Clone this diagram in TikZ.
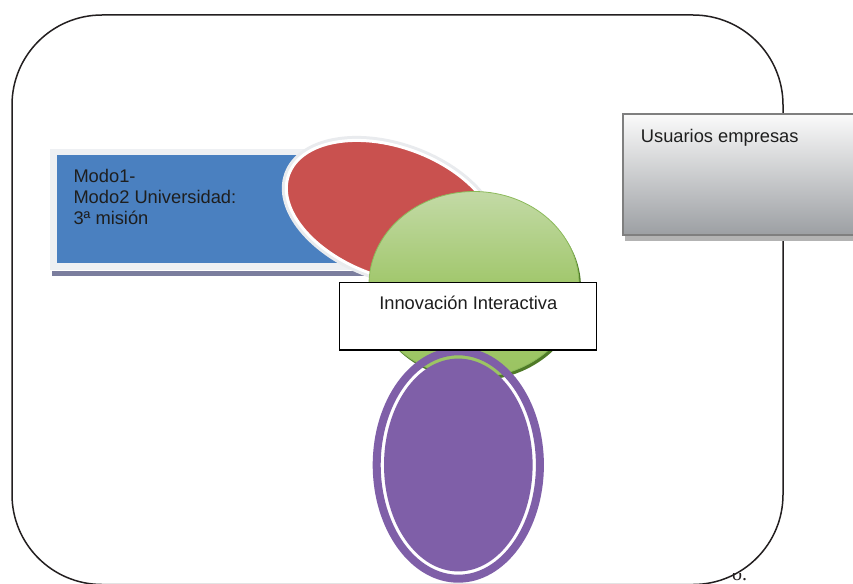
\documentclass[tikz,border=0pt]{standalone}
\usepackage{fontspec}
\setmainfont{Liberation Sans}
\newfontfamily\serifrag{Liberation Serif}
\usetikzlibrary{shapes.geometric}
\definecolor{frameline}{HTML}{231F20}
\definecolor{bluefill}{HTML}{4A80C0}
\definecolor{blueedge}{HTML}{EEF0F3}
\definecolor{blueshadow}{HTML}{7B7E9E}
\definecolor{redfill}{HTML}{C9514F}
\definecolor{redring}{HTML}{E9EBEE}
\definecolor{greentop}{HTML}{C3DAA6}
\definecolor{greenmid}{HTML}{A1C76C}
\definecolor{greenbot}{HTML}{9BC462}
\definecolor{greenedge}{HTML}{8CBA5B}
\definecolor{greenshadow}{HTML}{4F7A27}
\definecolor{purplefill}{HTML}{7F5FA8}
\definecolor{graytop}{HTML}{FAFAFA}
\definecolor{graybot}{HTML}{9C9FA3}
\definecolor{grayedge}{HTML}{7F7F7F}
\definecolor{grayshadow}{HTML}{B3B3B3}
\definecolor{txt}{HTML}{1E1E1E}
\tikzset{
  lbl/.style={inner sep=0pt, text=txt, font=\fontsize{18.3}{21.3}\selectfont},
  boxnode/.style={inner sep=0pt, outer sep=0pt, anchor=north west},
}
\begin{document}
\begin{tikzpicture}[x=1pt,y=-1pt]
\useasboundingbox (0,0) rectangle (853,583);
\fill[white] (0,0) rectangle (853,583);

% outer frame
\draw[frameline, line width=1.5pt, rounded corners=90pt] (12,15) rectangle (783,584.5);

% clipped text fragment at the bottom
\begin{scope}
\clip (724,573) rectangle (760,583);
\node[anchor=base west, inner sep=0pt, font=\serifrag\fontsize{20}{20}\selectfont, text=frameline] (frag) at (732,580.5) {o.};
\end{scope}

% Usuarios empresas
\fill[grayshadow] (625,235) rectangle (853,240.5);
\node[boxnode, draw=grayedge, line width=1.8pt, top color=graytop, bottom color=graybot, minimum width=260pt, minimum height=120.7pt] (usr) at (622.7,114.3) {};
\node[lbl, anchor=base west] (usrtxt) at (640.7,142.3) {Usuarios empresas};

% blue box
\fill[blueshadow] (52,271) rectangle (365,276);
\node[boxnode, draw=blueedge, line width=6.5pt, fill=bluefill, minimum width=315pt, minimum height=114.5pt] (modo) at (53.5,152.2) {};
\node[lbl, anchor=north west, align=left] (modotxt) at (73.3,168.6) {Modo1-\\Modo2 Universidad:\\3ª misión};

% red ellipse
\node[ellipse, fill=redfill, draw=white, line width=3pt, preaction={draw=redring, line width=9pt}, minimum width=219pt, minimum height=129.8pt, inner sep=0pt, rotate=-20] (red) at (391.6,212) {};

% green ellipse
\fill[greenshadow] (476,287.5) ellipse [x radius=105, y radius=93];
\node[ellipse, draw=greenedge, line width=0.8pt, top color=greentop, bottom color=greenbot, middle color=greenmid, minimum width=210pt, minimum height=186pt, inner sep=0pt] (grn) at (474,284.5) {};

% purple ellipse with ring gap
\path[fill=purplefill, even odd rule] (458.3,465) ellipse [x radius=85.6, y radius=117.7]
  (458.3,465) ellipse [x radius=77.6, y radius=109.7]
  (458.3,465) ellipse [x radius=74.3, y radius=106.4];
\node[ellipse, minimum width=171.2pt, minimum height=235.4pt, inner sep=0pt] (pur) at (458.3,465) {};

% Innovacion box
\node[boxnode, draw=black, line width=1.2pt, fill=white, minimum width=257.4pt, minimum height=67.3pt] (inno) at (339.3,282.7) {};
\node[lbl, anchor=base] (innotxt) at (468.3,309.3) {Innovación Interactiva};
\end{tikzpicture}
\end{document}
